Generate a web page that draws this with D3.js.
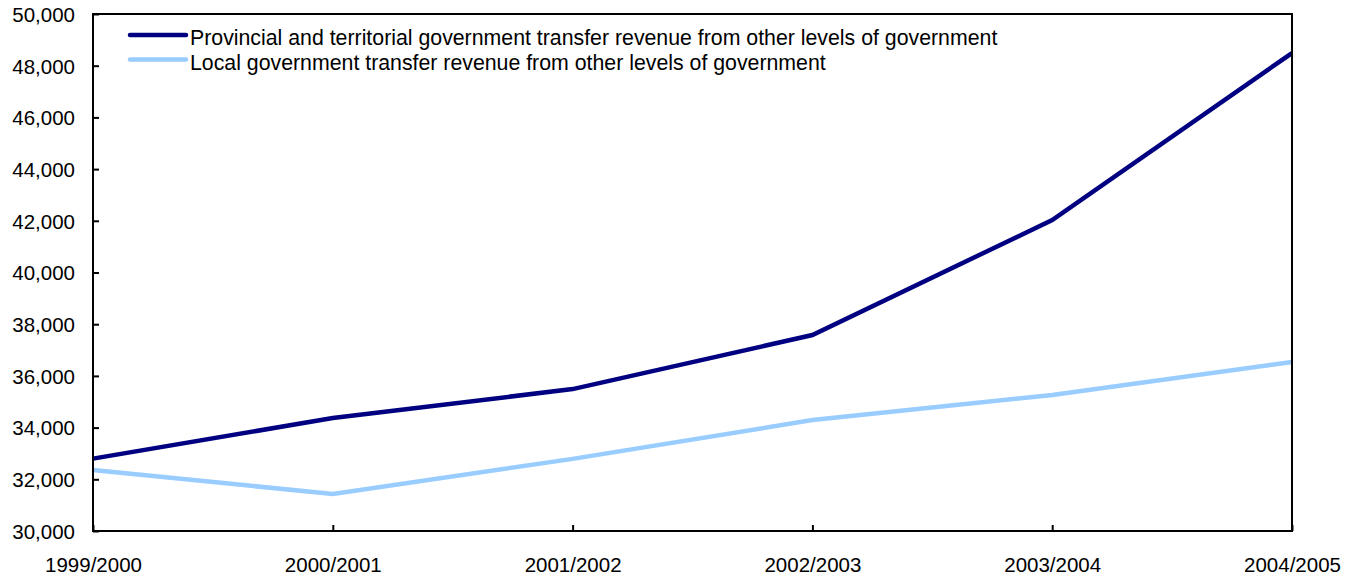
<!DOCTYPE html>
<html>
<head>
<meta charset="utf-8">
<script src="https://cdn.jsdelivr.net/npm/d3@7"></script>
<style>
  html, body { margin: 0; padding: 0; background: #fff; }
  svg text { font-family: "Liberation Sans", Arial, Helvetica, sans-serif; fill: #000; }
</style>
</head>
<body>
<svg id="chart" width="1356" height="577"></svg>
<script>
// Fiscal years on the x axis
const years = ["1999/2000", "2000/2001", "2001/2002", "2002/2003", "2003/2004", "2004/2005"];

// Transfer revenue from other levels of government (millions of dollars)
const provincialTerritorial = [32800, 34370, 35490, 37580, 42030, 48490];
const localGovernment = [32360, 31430, 32790, 34290, 35260, 36540];

const seriesNames = [
  "Provincial and territorial government transfer revenue from other levels of government",
  "Local government transfer revenue from other levels of government"
];
const seriesColors = ["#000080", "#99ccff"];

const yTicks = [30000, 32000, 34000, 36000, 38000, 40000, 42000, 44000, 46000, 48000, 50000];

const margin = { left: 93, right: 64, top: 14, bottom: 46 };
const W = 1356, H = 577;

const svg = d3.select("#chart");

const x = d3.scalePoint().domain(years).range([margin.left, W - margin.right]);
const y = d3.scaleLinear().domain([30000, 50000]).range([H - margin.bottom, margin.top]);

// Y axis: labels on the left, ticks pointing into the plot
const yAxis = d3.axisRight(y).tickValues(yTicks).tickSize(6).tickFormat(d3.format(","));
const yg = svg.append("g").attr("transform", `translate(${margin.left},0)`).call(yAxis);
yg.select(".domain").remove();
yg.selectAll(".tick line").attr("stroke", "#000").attr("stroke-width", 2);
yg.selectAll(".tick text")
  .attr("x", -18).attr("text-anchor", "end").attr("dy", "0.36em")
  .style("font-size", "20.5px");

// X axis: ticks pointing up into the plot, labels below
const xAxis = d3.axisTop(x).tickSize(6);
const xg = svg.append("g").attr("transform", `translate(0,${H - margin.bottom})`).call(xAxis);
xg.select(".domain").remove();
xg.selectAll(".tick line").attr("stroke", "#000").attr("stroke-width", 2);
xg.selectAll(".tick text")
  .attr("y", 41).attr("dy", 0).attr("text-anchor", "middle")
  .style("font-size", "20.5px");

// Series lines
const line = d3.line().x((d, i) => x(years[i])).y(d => y(d));
[provincialTerritorial, localGovernment].forEach((vals, k) => {
  svg.append("path")
    .datum(vals)
    .attr("fill", "none")
    .attr("stroke", seriesColors[k])
    .attr("stroke-width", 4.5)
    .attr("stroke-linejoin", "miter")
    .attr("d", line);
});

// Plot frame
svg.append("rect")
  .attr("x", margin.left).attr("y", margin.top)
  .attr("width", W - margin.right - margin.left)
  .attr("height", H - margin.bottom - margin.top)
  .attr("fill", "none").attr("stroke", "#000").attr("stroke-width", 2);

// Legend
const legend = svg.append("g");
seriesNames.forEach((name, k) => {
  const ly = 35 + k * 24.5;
  legend.append("line")
    .attr("x1", 130).attr("x2", 186).attr("y1", ly).attr("y2", ly)
    .attr("stroke", seriesColors[k]).attr("stroke-width", 4.5).attr("stroke-linecap", "round");
  legend.append("text")
    .attr("x", 190).attr("y", ly + 10)
    .style("font-size", "21.3px")
    .text(name);
});
</script>
</body>
</html>
